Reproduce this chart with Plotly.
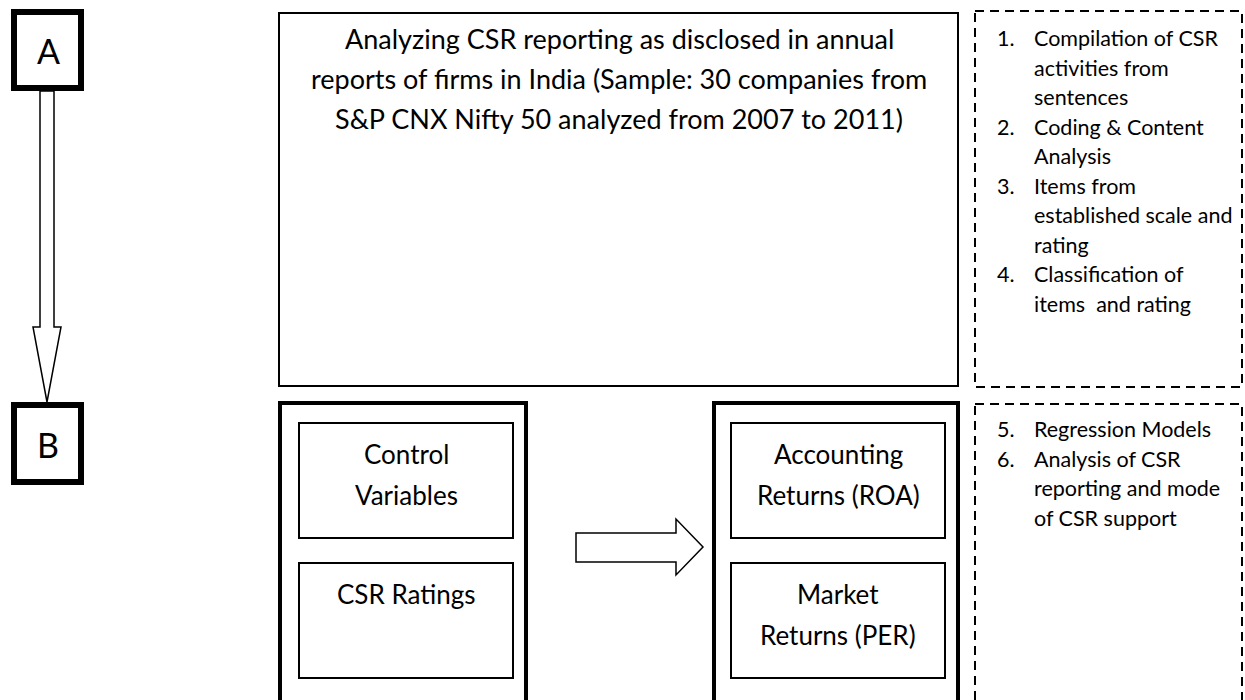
import plotly.graph_objects as go

# ---- content ----
stage_labels = ["A", "B"]
top_lines = [
    "Analyzing CSR reporting as disclosed in annual",
    "reports of firms in India (Sample: 30 companies from",
    "S&P CNX Nifty 50 analyzed from 2007 to 2011)",
]
left_box_texts = [["Control", "Variables"], ["CSR Ratings"]]
right_box_texts = [["Accounting", "Returns (ROA)"], ["Market", "Returns (PER)"]]
steps_a_nums = ["1.", "2.", "3.", "4."]
steps_a_lines = [
    ["Compilation of CSR", "activities from", "sentences"],
    ["Coding & Content", "Analysis"],
    ["Items from", "established scale and", "rating"],
    ["Classification of", "items  and rating"],
]
steps_b_nums = ["5.", "6."]
steps_b_lines = [
    ["Regression Models"],
    ["Analysis of CSR", "reporting and mode", "of CSR support"],
]

FONT = "Lato"
W, H = 1245, 700

fig = go.Figure()
shapes = []
ann = []


def rect(x0, y0, x1, y1, w, dash=None):
    line = dict(color="black", width=w)
    if dash:
        line["dash"] = dash
    shapes.append(dict(type="rect", xref="x", yref="y", x0=x0, y0=y0, x1=x1, y1=y1,
                       line=line, fillcolor="rgba(0,0,0,0)", layer="above"))


def text(x, y, s, size, anchor="center"):
    ann.append(dict(x=x, y=y, xref="x", yref="y", text=s, showarrow=False,
                    xanchor=anchor, yanchor="middle",
                    font=dict(family=FONT, size=size, color="black")))


# stage boxes A and B
rect(14, 12, 81, 88, 6)
rect(14, 405, 81, 482, 6)
text(48, 50, stage_labels[0], 34)
text(48, 444, stage_labels[1], 34)

# down arrow A -> B
shapes.append(dict(type="path", xref="x", yref="y",
                   path="M40,91 L40,327 L33,327 L47,402 L61,327 L54,327 L54,91 Z",
                   line=dict(color="black", width=1.5), fillcolor="white"))

# top box
rect(279, 13, 958, 386, 2)
for i, s in enumerate(top_lines):
    text(619, 38 + i * 40, s, 27)

# big boxes
rect(280, 403, 526, 720, 4)
rect(714, 403, 958, 720, 4)
inner_y = [(423, 538), (563, 678)]
for (y0, y1), lines in zip(inner_y, left_box_texts):
    rect(299, y0, 513, y1, 2)
    for j, s in enumerate(lines):
        text(406, y0 + 31 + j * 41, s, 26)
for (y0, y1), lines in zip(inner_y, right_box_texts):
    rect(731, y0, 945, y1, 2)
    for j, s in enumerate(lines):
        text(838, y0 + 31 + j * 41, s, 26)

# right arrow
shapes.append(dict(type="path", xref="x", yref="y",
                   path="M576,533 L676,533 L676,519 L703,547 L676,575 L676,562 L576,562 Z",
                   line=dict(color="black", width=1.5), fillcolor="white"))

# dashed boxes
rect(975, 11, 1242, 387, 2, dash="9px,6px")
rect(975, 404, 1242, 720, 2, dash="9px,6px")


def numbered(nums, groups, y_start, pitch):
    k = 0
    for n, lines in zip(nums, groups):
        y = y_start + k * pitch
        text(995, y, n, 21.5, anchor="left")
        for s in lines:
            text(1032, y_start + k * pitch, s, 21.5, anchor="left")
            k += 1


numbered(steps_a_nums, steps_a_lines, 38, 29.5)
numbered(steps_b_nums, steps_b_lines, 429, 29.5)

fig.update_layout(
    width=W, height=H, margin=dict(l=0, r=0, t=0, b=0),
    paper_bgcolor="white", plot_bgcolor="white",
    xaxis=dict(range=[0, W], visible=False, fixedrange=True),
    yaxis=dict(range=[H, 0], visible=False, fixedrange=True),
    shapes=shapes, annotations=ann, showlegend=False,
)
fig.write_html(
    "out.html",
    config={"displayModeBar": False},
    post_script="document.body.style.margin='0';document.body.style.overflow='hidden';",
)
